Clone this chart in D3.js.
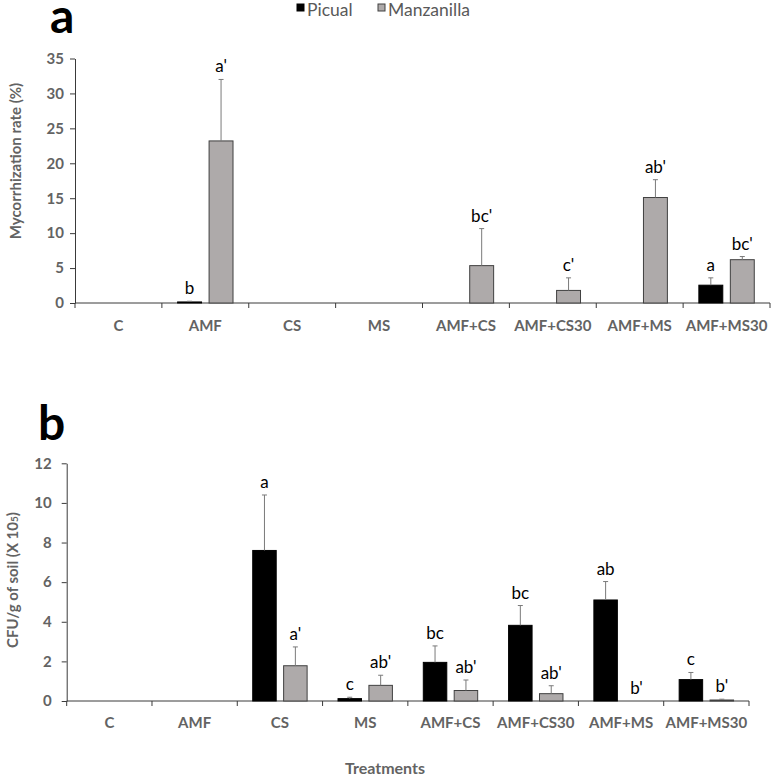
<!DOCTYPE html>
<html>
<head>
<meta charset="utf-8">
<script src="https://cdn.jsdelivr.net/npm/d3@7"></script>
<style>
  html, body { margin: 0; padding: 0; background: #fff; }
  svg { display: block; }
  text { font-family: Lato, "Open Sans", sans-serif; }
</style>
</head>
<body>
<svg id="chart" width="772" height="776"></svg>
<script>
// ---------------- data ----------------
const categories = ["C", "AMF", "CS", "MS", "AMF+CS", "AMF+CS30", "AMF+MS", "AMF+MS30"];
const seriesNames = ["Picual", "Manzanilla"];

// Panel a: mycorrhization rate (%)
const mycoPicual       = [0, 0.15, 0, 0, 0, 0, 0, 2.55];
const mycoPicualErr    = [0, 0.1, 0, 0, 0, 0, 0, 1.05];
const mycoPicualLbl    = ["", "b", "", "", "", "", "", "a"];
const mycoManz         = [0, 23.2, 0, 0, 5.35, 1.8, 15.1, 6.2];
const mycoManzErr      = [0, 8.8, 0, 0, 5.3, 1.8, 2.55, 0.45];
const mycoManzLbl      = ["", "a'", "", "", "bc'", "c'", "ab'", "bc'"];
const mycoTicks        = [0, 5, 10, 15, 20, 25, 30, 35];

// Panel b: CFU/g of soil (x 10^5)
const cfuPicual        = [0, 0, 7.6, 0.12, 1.95, 3.82, 5.1, 1.08];
const cfuPicualErr     = [0, 0, 2.8, 0.07, 0.83, 1.0, 0.93, 0.36];
const cfuPicualLbl     = ["", "", "a", "c", "bc", "bc", "ab", "c"];
const cfuManz          = [0, 0, 1.78, 0.79, 0.53, 0.37, 0, 0.05];
const cfuManzErr       = [0, 0, 0.95, 0.51, 0.53, 0.4, 0, 0.04];
const cfuManzLbl       = ["", "", "a'", "ab'", "ab'", "ab'", "b'", "b'"];
const cfuTicks         = [0, 2, 4, 6, 8, 10, 12];

// ---------------- drawing ----------------
const svg = d3.select("#chart");
const colors = { Picual: "#000000", Manzanilla: "#aeaaaa" };
const axisColor = "#3a3a3a";
const tickTextColor = "#636363";

function panel(opts) {
  const g = svg.append("g");
  const x = d3.scaleBand().domain(categories).range(opts.xRange).paddingInner(0).paddingOuter(0);
  const xi = d3.scaleBand().domain(seriesNames).range([0, x.bandwidth()]).paddingInner(0.24).paddingOuter(0.5);
  const y = d3.scaleLinear().domain(opts.yDomain).range(opts.yRange);

  // y axis
  const yAxis = g.append("g")
    .attr("transform", `translate(${opts.xRange[0]},0)`)
    .call(d3.axisLeft(y).tickValues(opts.ticks).tickSize(5).tickSizeOuter(0).tickPadding(opts.tickPad));
  yAxis.select(".domain").attr("stroke", axisColor);
  yAxis.selectAll(".tick line").attr("stroke", axisColor);
  yAxis.selectAll(".tick text")
    .attr("fill", tickTextColor).attr("font-size", 15).attr("font-weight", "bold");

  // x axis
  const boundaries = categories.map(c => x(c)).concat([opts.xRange[1]]);
  const xAxisG = g.append("g").attr("transform", `translate(0,${opts.yRange[0]})`);
  xAxisG.append("line")
    .attr("x1", opts.xRange[0]).attr("x2", opts.xRange[1])
    .attr("y1", 0).attr("y2", 0).attr("stroke", axisColor);
  xAxisG.selectAll("line.tk").data(boundaries).join("line").attr("class", "tk")
    .attr("x1", d => d).attr("x2", d => d).attr("y1", 0).attr("y2", 5).attr("stroke", axisColor);
  xAxisG.selectAll("text").data(categories).join("text")
    .attr("x", d => x(d) + x.bandwidth() / 2)
    .attr("y", opts.xLabelDy)
    .attr("text-anchor", "middle")
    .attr("fill", tickTextColor).attr("font-size", 15).attr("font-weight", "bold")
    .text(d => d);

  const series = [
    { name: "Picual", vals: opts.picual, errs: opts.picualErr, lbls: opts.picualLbl },
    { name: "Manzanilla", vals: opts.manz, errs: opts.manzErr, lbls: opts.manzLbl }
  ];

  series.forEach(s => {
    const data = categories.map((c, i) => ({ c, v: s.vals[i], e: s.errs[i], l: s.lbls[i] }));
    const gx = d => x(d.c) + xi(s.name);
    // bars
    g.append("g").selectAll("rect").data(data.filter(d => d.v > 0)).join("rect")
      .attr("x", gx)
      .attr("y", d => y(d.v))
      .attr("width", xi.bandwidth())
      .attr("height", d => y(0) - y(d.v))
      .attr("fill", colors[s.name])
      .attr("stroke", s.name === "Picual" ? "#000" : "#404040")
      .attr("stroke-width", 1);
    // error bars
    const eg = g.append("g").attr("stroke", "#7a7a7a").attr("stroke-width", 1);
    data.filter(d => d.e > 0).forEach(d => {
      const cx = gx(d) + xi.bandwidth() / 2;
      eg.append("line").attr("x1", cx).attr("x2", cx).attr("y1", y(d.v)).attr("y2", y(d.v + d.e));
      eg.append("line").attr("x1", cx - 2.5).attr("x2", cx + 2.5).attr("y1", y(d.v + d.e)).attr("y2", y(d.v + d.e));
    });
    // letters
    g.append("g").selectAll("text").data(data.filter(d => d.l)).join("text")
      .attr("x", d => gx(d) + xi.bandwidth() / 2)
      .attr("y", d => y(d.v + d.e) - 7)
      .attr("text-anchor", "middle")
      .attr("font-size", 17)
      .attr("fill", "#000")
      .text(d => d.l);
  });
  return g;
}

panel({
  xRange: [75, 770], yRange: [303, 58.5], yDomain: [0, 35], ticks: mycoTicks, tickPad: 6,
  xLabelDy: 28,
  picual: mycoPicual, picualErr: mycoPicualErr, picualLbl: mycoPicualLbl,
  manz: mycoManz, manzErr: mycoManzErr, manzLbl: mycoManzLbl
});

panel({
  xRange: [66.7, 749], yRange: [701, 463.3], yDomain: [0, 12], ticks: cfuTicks, tickPad: 10,
  xLabelDy: 27,
  picual: cfuPicual, picualErr: cfuPicualErr, picualLbl: cfuPicualLbl,
  manz: cfuManz, manzErr: cfuManzErr, manzLbl: cfuManzLbl
});

// panel letters
svg.append("text").attr("x", 50).attr("y", 33).attr("font-size", 48).attr("font-weight", "bold")
  .attr("font-family", "Arial, 'Liberation Sans', sans-serif").text("a");
svg.append("text").attr("x", 38).attr("y", 440).attr("font-size", 48).attr("font-weight", "bold")
  .attr("font-family", "Arial, 'Liberation Sans', sans-serif").text("b");

// legend
const legend = svg.append("g").attr("transform", "translate(297,0)");
const legItems = [
  { name: "Picual", x: 0 },
  { name: "Manzanilla", x: 81 }
];
legItems.forEach(it => {
  legend.append("rect").attr("x", it.x).attr("y", 4).attr("width", 7).attr("height", 7)
    .attr("fill", colors[it.name]).attr("stroke", it.name === "Picual" ? "#000" : "#404040");
  legend.append("text").attr("x", it.x + 10).attr("y", 16).attr("font-size", 17.5)
    .attr("fill", "#595959").text(it.name);
});

// axis titles
svg.append("text")
  .attr("transform", "translate(21,161) rotate(-90)")
  .attr("text-anchor", "middle").attr("font-size", 15).attr("font-weight", "bold")
  .attr("fill", tickTextColor).text("Mycorrhization rate (%)");

const yt = svg.append("text")
  .attr("transform", "translate(18,580) rotate(-90)")
  .attr("text-anchor", "middle").attr("font-size", 15).attr("font-weight", "bold")
  .attr("fill", tickTextColor);
yt.append("tspan").text("CFU/g of soil (X 10");
yt.append("tspan").attr("font-size", 10).text("5");
yt.append("tspan").text(")");

svg.append("text").attr("x", 385).attr("y", 774).attr("text-anchor", "middle")
  .attr("font-size", 16).attr("font-weight", "bold").attr("fill", tickTextColor).text("Treatments");
</script>
</body>
</html>
